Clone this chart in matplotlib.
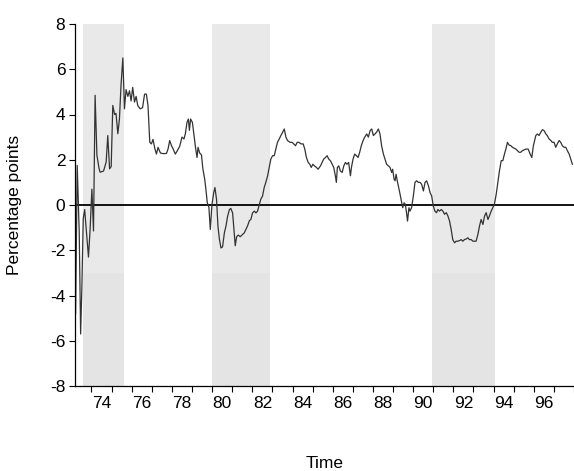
import numpy as np
import matplotlib
matplotlib.use("Agg")
import matplotlib.pyplot as plt

plt.rcParams['font.family'] = ['Liberation Sans', 'DejaVu Sans']
plt.rcParams['axes.unicode_minus'] = False

# time in years (label "74" = mid 1974) and spread in percentage points
t = [72.71, 72.79, 72.89, 72.96, 73.02, 73.09, 73.16, 73.27, 73.35, 73.43,
     73.52, 73.60, 73.68, 73.77, 73.88, 73.93, 74.10, 74.23, 74.31, 74.40,
     74.48, 74.56, 74.65, 74.72, 74.81, 74.89, 74.97, 75.06, 75.14, 75.22,
     75.31, 75.39, 75.47, 75.55, 75.64, 75.72, 75.80, 75.92, 76.04, 76.14,
     76.23, 76.31, 76.40, 76.48, 76.56, 76.65, 76.73, 76.81, 76.93, 77.06,
     77.23, 77.31, 77.39, 77.48, 77.56, 77.67, 77.77, 77.89, 78.00, 78.10,
     78.17, 78.25, 78.32, 78.37, 78.43, 78.52, 78.60, 78.68, 78.75, 78.80,
     78.88, 78.97, 79.04, 79.13, 79.19, 79.26, 79.34, 79.41, 79.49, 79.58,
     79.64, 79.72, 79.79, 79.86, 79.94, 80.02, 80.11, 80.19, 80.27, 80.36,
     80.43, 80.52, 80.60, 80.65, 80.72, 80.80, 80.90, 81.02, 81.10, 81.18,
     81.26, 81.35, 81.43, 81.51, 81.60, 81.68, 81.76, 81.85, 81.92, 82.01,
     82.09, 82.17, 82.26, 82.34, 82.42, 82.51, 82.59, 82.67, 82.75, 82.84,
     82.92, 83.00, 83.09, 83.17, 83.25, 83.38, 83.48, 83.56, 83.65, 83.73,
     83.81, 83.93, 84.03, 84.11, 84.19, 84.28, 84.36, 84.43, 84.51, 84.59,
     84.69, 84.77, 84.89, 84.97, 85.05, 85.14, 85.22, 85.30, 85.39, 85.47,
     85.55, 85.63, 85.68, 85.73, 85.80, 85.88, 85.97, 86.05, 86.13, 86.21,
     86.29, 86.38, 86.43, 86.51, 86.59, 86.68, 86.76, 86.84, 86.92, 87.01,
     87.09, 87.19, 87.27, 87.36, 87.44, 87.52, 87.60, 87.68, 87.77, 87.85,
     87.93, 88.02, 88.10, 88.18, 88.27, 88.35, 88.43, 88.48, 88.55, 88.60,
     88.65, 88.71, 88.78, 88.85, 88.93, 88.98, 89.05, 89.11, 89.17, 89.22,
     89.29, 89.34, 89.42, 89.51, 89.59, 89.67, 89.76, 89.84, 89.92, 90.01,
     90.09, 90.17, 90.26, 90.34, 90.42, 90.50, 90.58, 90.66, 90.73, 90.81,
     90.90, 90.98, 91.06, 91.15, 91.23, 91.31, 91.39, 91.47, 91.56, 91.64,
     91.72, 91.81, 91.89, 91.97, 92.05, 92.14, 92.22, 92.30, 92.39, 92.47,
     92.55, 92.63, 92.72, 92.80, 92.88, 92.97, 93.05, 93.13, 93.22, 93.29,
     93.38, 93.46, 93.54, 93.63, 93.71, 93.79, 93.88, 93.96, 94.04, 94.11,
     94.19, 94.27, 94.36, 94.44, 94.61, 94.77, 94.85, 94.93, 95.10, 95.22,
     95.32, 95.40, 95.48, 95.60, 95.68, 95.76, 95.85, 95.93, 96.01, 96.10,
     96.17, 96.26, 96.35, 96.42, 96.51, 96.59, 96.67, 96.76, 96.84, 96.92,
     97.01, 97.09, 97.17, 97.26, 97.34, 97.42]
spread = [-4.8, 1.75, -1.2, -5.7, -3.7, -0.6, -0.2, -1.4, -2.3, -1.1,
          0.7, -1.15, 4.85, 2.2, 1.6, 1.45, 1.5, 1.9, 3.07, 1.6,
          1.7, 4.4, 4.0, 4.05, 3.15, 3.8, 5.3, 6.5, 4.25, 5.1,
          4.8, 5.05, 4.6, 5.2, 4.55, 4.8, 4.4, 4.25, 4.3, 4.9,
          4.9, 4.4, 2.77, 2.7, 2.9, 2.5, 2.25, 2.55, 2.3, 2.27,
          2.28, 2.48, 2.85, 2.62, 2.48, 2.25, 2.4, 2.6, 3.0, 2.92,
          3.15, 3.65, 3.8, 3.3, 3.8, 3.65, 3.07, 2.5, 2.1, 2.55,
          2.3, 2.22, 1.6, 1.15, 0.7, 0.1, -0.1, -1.08, 0.0, 0.55,
          0.77, 0.25, -0.93, -1.5, -1.9, -1.85, -1.23, -0.93, -0.5, -0.2,
          -0.15, -0.35, -1.23, -1.8, -1.4, -1.33, -1.4, -1.3, -1.23, -1.08,
          -0.93, -0.7, -0.63, -0.35, -0.27, -0.35, -0.27, 0.03, 0.25, 0.4,
          0.77, 1.0, 1.29, 1.66, 2.03, 2.18, 2.18, 2.47, 2.77, 2.92,
          3.07, 3.2, 3.36, 3.0, 2.85, 2.77, 2.77, 2.7, 2.62, 2.77,
          2.77, 2.7, 2.7, 2.47, 2.1, 1.88, 1.8, 1.66, 1.8, 1.73,
          1.66, 1.58, 1.73, 1.88, 2.03, 2.1, 2.18, 2.03, 1.95, 1.8,
          1.66, 1.29, 1.0, 1.66, 1.73, 1.5, 1.44, 1.73, 1.88, 1.8,
          1.88, 1.29, 1.66, 2.03, 2.25, 2.18, 2.1, 2.33, 2.62, 2.85,
          3.0, 3.14, 3.0, 3.29, 3.36, 3.07, 3.14, 3.22, 3.36, 3.14,
          2.62, 2.25, 2.03, 1.8, 1.73, 1.66, 1.44, 1.58, 1.14, 1.07,
          1.36, 1.07, 0.77, 0.47, 0.1, -0.12, 0.1, 0.03, -0.34, -0.71,
          -0.12, -0.27, -0.12, 0.4, 1.0, 1.07, 1.0, 1.0, 0.92, 0.62,
          1.0, 1.07, 0.85, 0.55, 0.4, -0.04, -0.27, -0.34, -0.2, -0.27,
          -0.2, -0.27, -0.41, -0.34, -0.49, -0.71, -1.08, -1.53, -1.67, -1.6,
          -1.6, -1.57, -1.53, -1.6, -1.53, -1.5, -1.45, -1.53, -1.53, -1.6,
          -1.6, -1.6, -1.3, -0.93, -0.64, -0.86, -0.49, -0.34, -0.64, -0.49,
          -0.27, -0.12, 0.03, 0.47, 1.0, 1.5, 1.96, 1.96, 2.25, 2.47,
          2.77, 2.65, 2.62, 2.55, 2.47, 2.33, 2.33, 2.4, 2.47, 2.47,
          2.25, 2.1, 2.62, 3.07, 3.14, 3.07, 3.22, 3.33, 3.29, 3.14,
          3.07, 2.92, 2.85, 2.77, 2.77, 2.55, 2.7, 2.85, 2.77, 2.62,
          2.55, 2.55, 2.4, 2.25, 2.03, 1.8]

# recession periods (shaded)
rec_start = [73.09, 79.49, 90.46]
rec_end = [75.11, 82.36, 93.56]

fig = plt.figure(figsize=(5.74, 4.71), dpi=100)
ax = fig.add_axes([75 / 574, 1 - 386 / 471, 499 / 574, 362 / 471])

for a, b in zip(rec_start, rec_end):
    ax.axvspan(a, b, color='#e9e9e9', lw=0, zorder=0)
    ax.fill_between([a, b], -8, -3, color='#e4e4e4', lw=0, zorder=0)

ax.axhline(0, color='black', lw=1.3, zorder=1)
ax.plot(t, spread, color='#333333', lw=0.9, zorder=2)

ax.set_xlim(72.68, 97.47)
ax.set_ylim(-8, 8)

ax.set_xticks(np.arange(74, 97, 2))
ax.set_xticklabels([str(v) for v in range(74, 97, 2)])
ax.set_xticks(np.arange(73.5, 97.6, 1), minor=True)
ax.tick_params(axis='x', which='major', length=0, pad=7, labelsize=12.5)
ax.tick_params(axis='x', which='minor', length=4, width=0.8, direction='out')
ax.set_yticks(np.arange(-8, 9, 2))
ax.tick_params(axis='y', length=4, width=0.8, direction='out', pad=3, labelsize=12.5)

for s in ['top', 'right']:
    ax.spines[s].set_visible(False)
ax.spines['left'].set_linewidth(0.9)
ax.spines['bottom'].set_linewidth(0.9)

ax.set_xlabel('Time', fontsize=12.5)
ax.xaxis.set_label_coords(0.5, -0.192)
ax.set_ylabel('Percentage points', fontsize=12.5)
ax.yaxis.set_label_coords(-0.107, 0.5)

fig.savefig('out.png', dpi=100)
